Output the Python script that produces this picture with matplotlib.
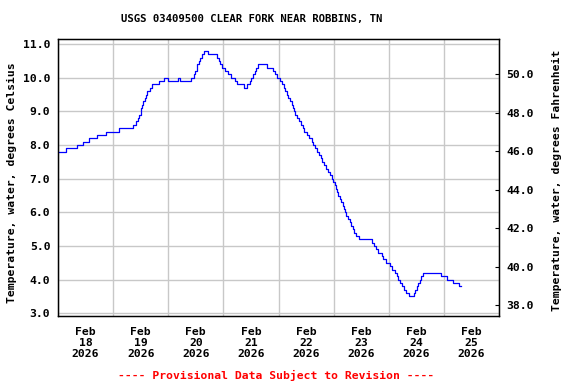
import numpy as np
import pandas as pd
import matplotlib
matplotlib.use("Agg")
import matplotlib.pyplot as plt
import matplotlib.dates as mdates
from matplotlib.ticker import FixedLocator, NullFormatter

# ---- data ----
start_time = "2026-02-18 00:00"
end_time = "2026-02-26 00:00"
# hours since start at which the reading changes, and the reading (deg C)
change_hours = [0, 3.7, 8.3, 11.0, 13.5, 17.0, 20.7, 26.5, 32.8, 34.1, 34.9, 35.4, 36.0, 36.3,
                36.7, 37.2, 37.8, 38.2, 38.9, 39.9, 41.0, 43.9, 46.0, 48.1, 52.3, 53.0, 58.1,
                59.3, 59.8, 60.3, 60.7, 61.3, 61.9, 62.7, 63.6, 65.3, 69.3, 70.0, 70.7, 71.4,
                72.9, 74.1, 75.5, 77.0, 78.1, 80.8, 82.5, 83.4, 84.2, 85.1, 85.7, 86.3, 87.1,
                91.2, 93.4, 94.4, 95.4, 96.7, 97.6, 98.2, 98.8, 99.5, 100.2, 100.9, 101.7,
                102.1, 102.7, 103.4, 104.1, 105.0, 105.7, 106.5, 107.3, 108.2, 109.4, 110.7,
                111.2, 111.9, 112.6, 113.5, 114.3, 114.9, 115.6, 116.8, 117.5, 118.3, 119.2,
                119.8, 120.4, 120.9, 121.5, 122.1, 122.8, 123.3, 123.9, 124.6, 125.1, 125.6,
                126.4, 127.2, 127.7, 128.3, 128.9, 129.8, 131.2, 136.5, 137.5, 138.4, 139.4,
                140.9, 141.6, 143.0, 144.5, 145.5, 146.7, 147.4, 148.1, 149.1, 149.8, 150.5,
                151.5, 152.9, 155.0, 155.6, 156.2, 156.8, 157.5, 158.2, 159.0, 166.7, 169.5,
                172.1, 174.4, 175.5]
temps_c = [7.8, 7.9, 8.0, 8.1, 8.2, 8.3, 8.4, 8.5, 8.6, 8.7, 8.8, 8.9, 9.0, 9.1,
           9.2, 9.3, 9.4, 9.5, 9.6, 9.7, 9.8, 9.9, 10.0, 9.9, 10.0, 9.9, 10.0,
           10.1, 10.2, 10.3, 10.4, 10.5, 10.6, 10.7, 10.8, 10.7, 10.6, 10.5, 10.4, 10.3,
           10.2, 10.1, 10.0, 9.9, 9.8, 9.7, 9.8, 9.9, 10.0, 10.1, 10.2, 10.3, 10.4,
           10.3, 10.2, 10.1, 10.0, 9.9, 9.8, 9.7, 9.6, 9.5, 9.4, 9.3, 9.2,
           9.1, 9.0, 8.9, 8.8, 8.7, 8.6, 8.5, 8.4, 8.3, 8.2, 8.1,
           8.0, 7.9, 7.8, 7.7, 7.6, 7.5, 7.4, 7.3, 7.2, 7.1, 7.0,
           6.9, 6.8, 6.7, 6.6, 6.5, 6.4, 6.3, 6.2, 6.1, 6.0, 5.9,
           5.8, 5.7, 5.6, 5.5, 5.4, 5.3, 5.2, 5.1, 5.0, 4.9, 4.8,
           4.7, 4.6, 4.5, 4.4, 4.3, 4.2, 4.1, 4.0, 3.9, 3.8, 3.7,
           3.6, 3.5, 3.6, 3.7, 3.8, 3.9, 4.0, 4.1, 4.2, 4.1, 4.0,
           3.9, 3.8, 3.8]

label_dates = ["2026-02-18", "2026-02-19", "2026-02-20", "2026-02-21",
               "2026-02-22", "2026-02-23", "2026-02-24", "2026-02-25"]
celsius_ticks = [3.0, 4.0, 5.0, 6.0, 7.0, 8.0, 9.0, 10.0, 11.0]
fahrenheit_ticks = [38.0, 40.0, 42.0, 44.0, 46.0, 48.0, 50.0]

title = "USGS 03409500 CLEAR FORK NEAR ROBBINS, TN"
left_label = "Temperature, water, degrees Celsius"
right_label = "Temperature, water, degrees Fahrenheit"
footer = "---- Provisional Data Subject to Revision ----"

# ---- figure ----
FONT = "DejaVu Sans Mono"
fs = 8.2
fig = plt.figure(figsize=(5.76, 3.84), dpi=100)
ax = fig.add_axes([58 / 576, 1 - 316 / 384, (499 - 58) / 576, (316 - 39) / 384])

t0 = pd.Timestamp(start_time)
times = t0 + pd.to_timedelta(np.array(change_hours), unit="h")
ax.plot(times, temps_c, drawstyle="steps-post", color="#0000FF", lw=0.9)

ax.set_xlim(pd.Timestamp(start_time), pd.Timestamp(end_time))
ax.set_ylim(2.92, 11.15)

# grid at midnights, labels at noon
midnights = pd.date_range(start_time, end_time, freq="D")
ax.xaxis.set_major_locator(FixedLocator(mdates.date2num(midnights)))
ax.xaxis.set_major_formatter(NullFormatter())
noons = [pd.Timestamp(d) + pd.Timedelta(hours=12) for d in label_dates]
ax.xaxis.set_minor_locator(FixedLocator(mdates.date2num(noons)))
ax.set_xticklabels([f"{pd.Timestamp(d):%b}\n{pd.Timestamp(d).day}\n{pd.Timestamp(d):%Y}"
                    for d in label_dates], minor=True, fontfamily=FONT,
                   fontweight="bold", fontsize=fs, linespacing=1.12)
ax.tick_params(axis="x", which="both", length=0, pad=8)

ax.set_yticks(celsius_ticks)
ax.set_yticklabels([f"{v:.1f}" for v in celsius_ticks], fontfamily=FONT,
                   fontweight="bold", fontsize=fs)
ax.tick_params(axis="y", length=0, pad=5.5)

ax.grid(True, which="major", color="#C8C8C8", lw=1.0)
ax.set_axisbelow(True)
for s in ax.spines.values():
    s.set_linewidth(1.0)
    s.set_color("black")

ax2 = ax.twinx()
ax2.set_ylim(37.44, 51.83)
ax2.set_yticks(fahrenheit_ticks)
ax2.set_yticklabels([f"{v:.1f}" for v in fahrenheit_ticks], fontfamily=FONT,
                    fontweight="bold", fontsize=fs)
ax2.tick_params(axis="y", direction="in", length=3, width=0.8, pad=5)

fig.text(252 / 576, 1 - 19 / 384, title, ha="center", va="center",
         fontfamily=FONT, fontweight="bold", fontsize=7.7)
fig.text(12 / 576, 1 - 183 / 384, left_label, rotation=90, ha="center", va="center",
         fontfamily=FONT, fontweight="bold", fontsize=fs)
fig.text(557 / 576, 1 - 180 / 384, right_label, rotation=90, ha="center", va="center",
         fontfamily=FONT, fontweight="bold", fontsize=fs)
fig.text(276 / 576, 1 - 375 / 384, footer, ha="center", va="center", color="#FF0000",
         fontfamily=FONT, fontweight="bold", fontsize=fs)

fig.savefig("out.png", dpi=100)
